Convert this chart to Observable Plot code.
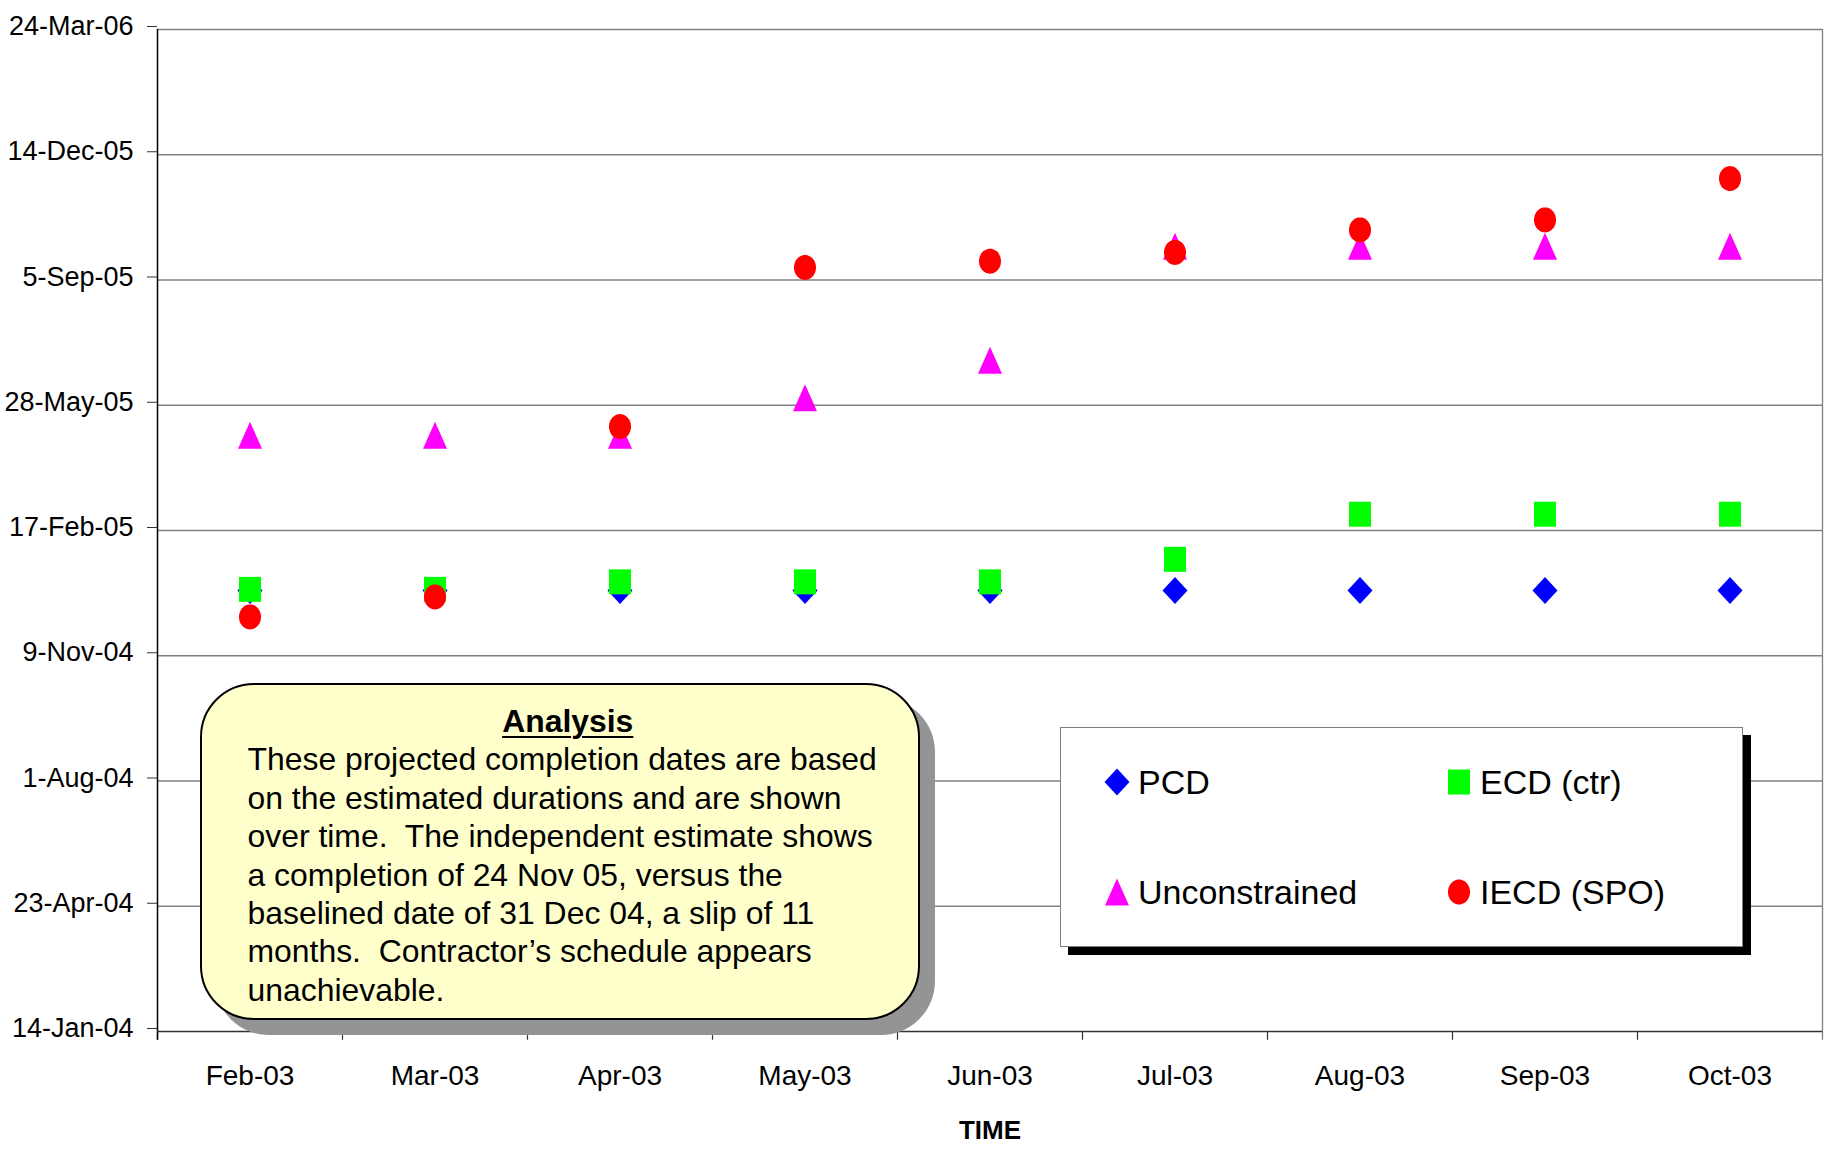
<!DOCTYPE html>
<html>
<head>
<meta charset="utf-8">
<script src="https://cdn.jsdelivr.net/npm/d3@7"></script>
<script src="https://cdn.jsdelivr.net/npm/@observablehq/plot@0.6"></script>
<style>
html, body { margin: 0; padding: 0; background: #fff; }
#wrap { position: relative; width: 1826px; height: 1153px; font-family: "Liberation Sans", Arial, sans-serif; overflow: hidden; }
#analysis { position: absolute; left: 200px; top: 683px; width: 720px; height: 337px; box-sizing: border-box;
  border: 2.5px solid #000; border-radius: 54px; background: #FFFFCC; box-shadow: 15px 15px 0 #949494;
  padding: 17px 30px 0 45.5px; font-size: 31.9px; line-height: 38.4px; color: #000; white-space: pre; }
#analysis .title { font-weight: bold; text-decoration: underline; text-decoration-thickness: 2px; text-underline-offset: 4px; text-align: center; }
#legend { position: absolute; left: 1060px; top: 727px; width: 683px; height: 220px; box-sizing: border-box;
  border: 1.5px solid #808080; background: #fff; box-shadow: 8px 8px 0 #000; }
.item { position: absolute; display: flex; align-items: center; height: 40px; font-size: 34px; color: #000; }
.item svg { display: block; }
.item span { margin-left: 8px; line-height: 40px; }
</style>
</head>
<body>
<div id="wrap"></div>
<script>
// ---- data ----
const months = ["Feb-03", "Mar-03", "Apr-03", "May-03", "Jun-03", "Jul-03", "Aug-03", "Sep-03", "Oct-03"];
const pcd = ["2004-12-31", "2004-12-31", "2004-12-31", "2004-12-31", "2004-12-31", "2004-12-31", "2004-12-31", "2004-12-31", "2004-12-31"];
const ecdCtr = ["2005-01-01", "2005-01-01", "2005-01-07", "2005-01-07", "2005-01-07", "2005-01-25", "2005-03-02", "2005-03-02", "2005-03-02"];
const unconstrained = ["2005-05-04", "2005-05-04", "2005-05-04", "2005-06-03", "2005-07-03", "2005-10-02", "2005-10-02", "2005-10-02", "2005-10-02"];
const iecdSpo = ["2004-12-10", "2004-12-26", "2005-05-11", "2005-09-15", "2005-09-20", "2005-09-27", "2005-10-15", "2005-10-23", "2005-11-25"];
const yTicks = ["2004-01-14", "2004-04-23", "2004-08-01", "2004-11-09", "2005-02-17", "2005-05-28", "2005-09-05", "2005-12-14", "2006-03-24"];
const seriesNames = ["PCD", "ECD (ctr)", "Unconstrained", "IECD (SPO)"];
const seriesColors = ["#0000FF", "#00FF00", "#FF00FF", "#FF0000"];
const xLabel = "TIME";
const analysisTitle = "Analysis";
const analysisLines = [
  "These projected completion dates are based",
  "on the estimated durations and are shown",
  "over time.  The independent estimate shows",
  "a completion of 24 Nov 05, versus the",
  "baselined date of 31 Dec 04, a slip of 11",
  "months.  Contractor\u2019s schedule appears",
  "unachievable."
];

// ---- marker shapes (slightly taller than wide, as in the reference) ----
function polySym(points) {
  return { draw(ctx, size) {
    const k = Math.sqrt(size / Math.PI) / 12;
    points.forEach(([px, py], i) => i ? ctx.lineTo(px * k, py * k) : ctx.moveTo(px * k, py * k));
    ctx.closePath();
  }};
}
function ellipseSym(w, h) {
  return { draw(ctx, size) {
    const k = Math.sqrt(size / Math.PI) / 12, rx = w / 2 * k, ry = h / 2 * k, n = 48;
    ctx.moveTo(rx, 0);
    for (let i = 1; i < n; i++) { const a = 2 * Math.PI * i / n; ctx.lineTo(rx * Math.cos(a), ry * Math.sin(a)); }
    ctx.closePath();
  }};
}
const symDiamond = polySym([[0, -13.5], [12.5, 0], [0, 13.5], [-12.5, 0]]);
const symSquare = polySym([[-11, -12.5], [11, -12.5], [11, 12.5], [-11, 12.5]]);
const symTriangle = polySym([[0, -13.5], [12, 13.5], [-12, 13.5]]);
const symCircle = ellipseSym(22, 25);
const symbols = [symDiamond, symSquare, symTriangle, symCircle];

const seriesValues = [pcd, ecdCtr, unconstrained, iecdSpo];
const parse = d3.utcParse("%Y-%m-%d");
const tickDates = yTicks.map(parse);
const yLo = tickDates[0], yHi = tickDates[tickDates.length - 1];
const tickEnd = d3.utcDay.offset(yLo, -7); // short tick below the x axis

const W = 1826, H = 1153, mL = 157, mR = 4, mT = 29, mB = 122;
const bw = (W - mL - mR) / months.length;

const dotMarks = seriesValues.map((vals, s) =>
  Plot.dot(months.map((m, i) => ({month: m, date: parse(vals[i])})), {
    x: "month", y: "date", r: 12, symbol: symbols[s], fill: seriesColors[s], stroke: "none"
  })
);

const chart = Plot.plot({
  width: W, height: H,
  marginLeft: mL, marginRight: mR, marginTop: mT, marginBottom: mB,
  style: {fontFamily: "Liberation Sans, Arial, sans-serif", background: "white", color: "black", overflow: "visible"},
  x: {type: "band", domain: months, padding: 0, label: null},
  y: {type: "utc", domain: [yLo, yHi], label: null},
  marks: [
    Plot.ruleY(tickDates.slice(1), {stroke: "#808080", strokeWidth: 1.3}),
    Plot.ruleX(months.slice(-1), {x: d => d, dx: bw / 2, y1: yHi, y2: tickEnd, stroke: "#808080", strokeWidth: 1.3}),
    Plot.ruleX(months, {x: d => d, dx: -bw / 2, y1: yLo, y2: tickEnd, stroke: "#333", strokeWidth: 1.2}),
    Plot.ruleX(months.slice(0, 1), {x: d => d, dx: -bw / 2, y1: tickEnd, y2: yHi, stroke: "#000", strokeWidth: 1.5}),
    Plot.ruleY([yLo], {stroke: "#333", strokeWidth: 1.6}),
    Plot.axisY({ticks: tickDates, tickFormat: d3.utcFormat("%-d-%b-%y"), tickSize: 10, tickPadding: 14, fontSize: 27, dy: -3, label: null, stroke: "#333"}),
    Plot.axisX({tickSize: 0, tickPadding: 34, fontSize: 28, label: null}),
    ...dotMarks,
    Plot.text([xLabel], {text: d => d, frameAnchor: "bottom", dy: 107, fontWeight: "bold", fontSize: 26})
  ]
});

const wrap = document.getElementById("wrap");
wrap.appendChild(chart);

// ---- analysis box ----
const box = document.createElement("div");
box.id = "analysis";
const t = document.createElement("div");
t.className = "title";
t.textContent = analysisTitle;
box.appendChild(t);
const body = document.createElement("div");
body.textContent = analysisLines.join("\n");
box.appendChild(body);
wrap.appendChild(box);

// ---- legend ----
const legend = document.createElement("div");
legend.id = "legend";
const pos = [[43, 34], [385, 34], [43, 144], [385, 144]];
seriesNames.forEach((name, s) => {
  const item = document.createElement("div");
  item.className = "item";
  item.style.left = pos[s][0] + "px";
  item.style.top = pos[s][1] + "px";
  const p = d3.path();
  symbols[s].draw(p, Math.PI * 144);
  item.innerHTML = `<svg width="26" height="30" viewBox="-13 -15 26 30"><path d="${p.toString()}" fill="${seriesColors[s]}"/></svg><span></span>`;
  item.querySelector("span").textContent = name;
  legend.appendChild(item);
});
wrap.appendChild(legend);
</script>
</body>
</html>
